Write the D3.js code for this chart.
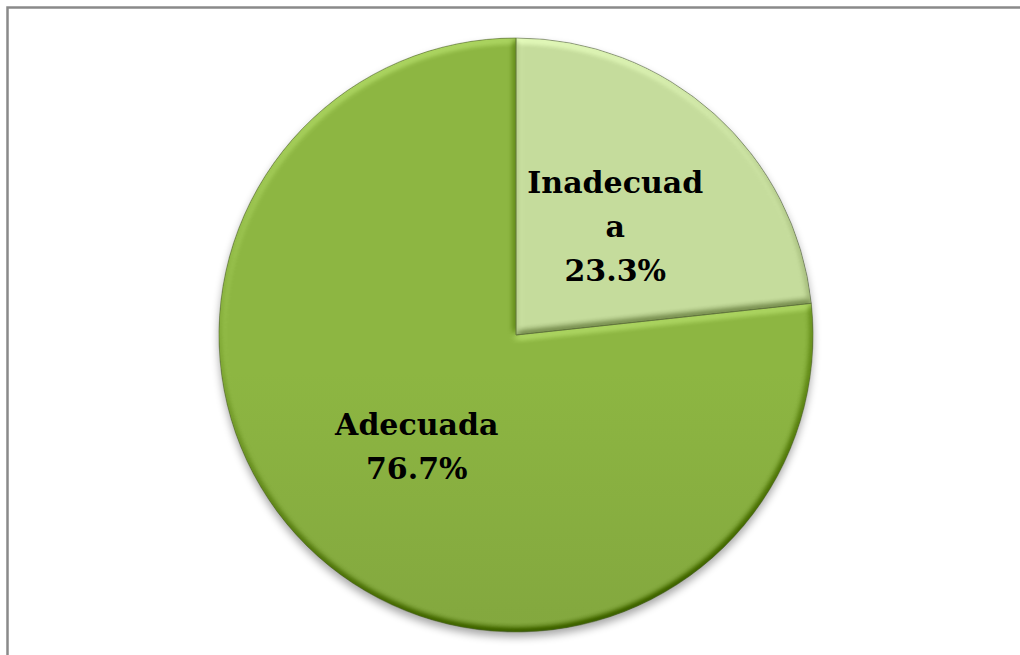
<!DOCTYPE html>
<html>
<head>
<meta charset="utf-8">
<script src="https://cdn.jsdelivr.net/npm/d3@7"></script>
<style>
  html, body { margin: 0; padding: 0; background: #fff; }
  svg { display: block; }
</style>
</head>
<body>
<svg id="chart" width="1020" height="655"></svg>
<script>
// Categories and their shares (percent)
const categories = ["Inadecuada", "Adecuada"];
const values = [23.3, 76.7];

// Slice fills: top and bottom colours of each vertical gradient
const fillTop = ["#c5dc9c", "#8db642"];
const fillBottom = ["#a1b97e", "#76953a"];

const W = 1020, H = 655;
const cx = 516, cy = 335, R = 297;

const svg = d3.select("#chart");
const defs = svg.append("defs");

// Chart frame (right and bottom edges lie outside the view)
svg.append("rect")
  .attr("x", 7.5).attr("y", 7.5)
  .attr("width", W + 40).attr("height", H + 40)
  .attr("fill", "#fff")
  .attr("stroke", "#8a8a8a")
  .attr("stroke-width", 2.5);

// Gradients per slice
categories.forEach((c, i) => {
  const g = defs.append("linearGradient")
    .attr("id", "grad" + i)
    .attr("gradientUnits", "userSpaceOnUse")
    .attr("x1", 0).attr("y1", cy - R)
    .attr("x2", 0).attr("y2", i === 0 ? cy : cy + R);
  g.append("stop").attr("offset", "0%").attr("stop-color", fillTop[i]);
  g.append("stop").attr("offset", "100%").attr("stop-color", fillBottom[i]);
});

// Soft shadow under the pie
const sh = defs.append("filter").attr("id", "shadow")
  .attr("x", "-20%").attr("y", "-20%").attr("width", "140%").attr("height", "140%");
sh.append("feGaussianBlur").attr("stdDeviation", 4);

// Rounded bevel: diffuse light centred on mid-grey, added as +/- shading
const bv = defs.append("filter").attr("id", "bevel")
  .attr("x", "-5%").attr("y", "-5%").attr("width", "110%").attr("height", "110%")
  .attr("color-interpolation-filters", "sRGB");
bv.append("feGaussianBlur").attr("in", "SourceAlpha").attr("stdDeviation", 3.5).attr("result", "blur");
const dl = bv.append("feDiffuseLighting").attr("in", "blur")
  .attr("surfaceScale", 5).attr("diffuseConstant", 0.707)
  .attr("lighting-color", "#fff").attr("result", "diff");
dl.append("feDistantLight").attr("azimuth", 255).attr("elevation", 45);
bv.append("feComposite").attr("in", "SourceGraphic").attr("in2", "diff")
  .attr("operator", "arithmetic").attr("k1", 0).attr("k2", 1).attr("k3", 0.55).attr("k4", -0.275)
  .attr("result", "lit");
bv.append("feComposite").attr("in", "lit").attr("in2", "SourceAlpha").attr("operator", "in");

const pie = d3.pie().sort(null).value(d => d.value);
const arcs = pie(categories.map((c, i) => ({ name: c, value: values[i], i })));
const arc = d3.arc().innerRadius(0).outerRadius(R);

const g = svg.append("g").attr("transform", `translate(${cx},${cy})`);

// shadow disc
g.append("circle")
  .attr("cx", 0).attr("cy", 5).attr("r", R)
  .attr("fill", "#000").attr("opacity", 0.35)
  .attr("filter", "url(#shadow)");

g.selectAll("path.slice")
  .data(arcs)
  .join("path")
  .attr("class", "slice")
  .attr("d", arc)
  .attr("fill", d => `url(#grad${d.data.i})`)
  .attr("filter", "url(#bevel)");

g.selectAll("path.edge")
  .data(arcs)
  .join("path")
  .attr("class", "edge")
  .attr("d", arc)
  .attr("fill", "none")
  .attr("stroke", d => d.data.i === 0 ? "#6a7a55" : "#5a7428")
  .attr("stroke-opacity", 0.6)
  .attr("stroke-width", 1);

// Labels: name wrapped to a maximum width, then the percentage
const fmt = d3.format(".1%");
const fontSize = 30, lineH = 44, maxW = 185;

const measure = svg.append("text")
  .attr("font-family", "'DejaVu Serif', serif")
  .attr("font-weight", "bold")
  .attr("font-size", fontSize)
  .attr("visibility", "hidden");
function widthOf(s) { measure.text(s); return measure.node().getComputedTextLength(); }
function wrap(s) {
  const lines = [];
  let cur = "";
  for (const ch of s) {
    if (cur && widthOf(cur + ch) > maxW) { lines.push(cur); cur = ch; }
    else cur += ch;
  }
  if (cur) lines.push(cur);
  return lines;
}
const total = d3.sum(values);

arcs.forEach(d => {
  const [lx, ly] = arc.centroid(d);
  const lines = wrap(d.data.name).concat([fmt(d.data.value / total)]);
  const t = g.append("text")
    .attr("font-family", "'DejaVu Serif', serif")
    .attr("font-weight", "bold")
    .attr("font-size", fontSize)
    .attr("fill", "#000")
    .attr("text-anchor", "middle");
  const n = lines.length;
  lines.forEach((s, k) => {
    t.append("tspan")
      .attr("x", lx)
      .attr("y", ly + (k - (n - 1) / 2) * lineH + 12)
      .text(s);
  });
});
measure.remove();
</script>
</body>
</html>
